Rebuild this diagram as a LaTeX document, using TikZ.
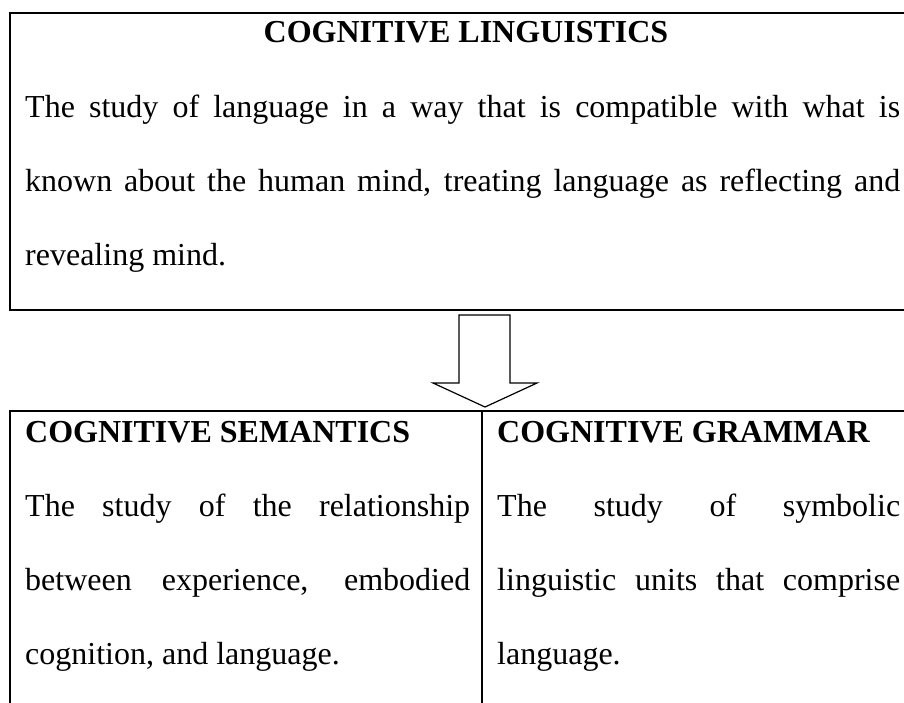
\documentclass[tikz,border=0pt]{standalone}
\usepackage{fontspec}
\setmainfont{Liberation Serif}
\begin{document}
\begin{tikzpicture}[x=1pt,y=-1pt,
  boxline/.style={line width=2pt},
  arr/.style={line width=1.2pt, line join=miter},
  txt/.style={anchor=base west, inner sep=0pt, font=\fontsize{32}{38}\selectfont},
  head/.style={inner sep=0pt, font=\fontsize{32}{38}\selectfont\bfseries}]
\useasboundingbox (0,0) rectangle (904,702);
\begin{scope}
\clip (0,0) rectangle (904,702);
\draw[boxline] (960,13) -- (10,13) -- (10,310) -- (960,310);
\draw[boxline] (960,411) -- (10,411) -- (10,720);
\draw[boxline] (482,411) -- (482,720);
\end{scope}
\draw[arr] (459,315) -- (510,315) -- (510,383) -- (537,383) -- (485,407) -- (433,383) -- (459,383) -- cycle;
\node[head, anchor=base] (h1) at (466,42) {COGNITIVE LINGUISTICS};
\node[txt] (t1) at (25,117) {\makebox[875pt][s]{The study of language in a way that is compatible with what is}};
\node[txt] (t2) at (25,191) {\makebox[875pt][s]{known about the human mind, treating language as reflecting and}};
\node[txt] (t3) at (25,265) {revealing mind.};
\node[head, anchor=base west] (h2) at (25,442) {COGNITIVE SEMANTICS};
\node[txt] (l1) at (25,516) {\makebox[445pt][s]{The study of the relationship}};
\node[txt] (l2) at (25,590) {\makebox[445pt][s]{between experience, embodied}};
\node[txt] (l3) at (25,664) {cognition, and language.};
\node[head, anchor=base west] (h3) at (497,442) {COGNITIVE GRAMMAR};
\node[txt] (r1) at (497,516) {\makebox[403pt][s]{The study of symbolic}};
\node[txt] (r2) at (497,590) {\makebox[403pt][s]{linguistic units that comprise}};
\node[txt] (r3) at (497,664) {language.};
\end{tikzpicture}
\end{document}
